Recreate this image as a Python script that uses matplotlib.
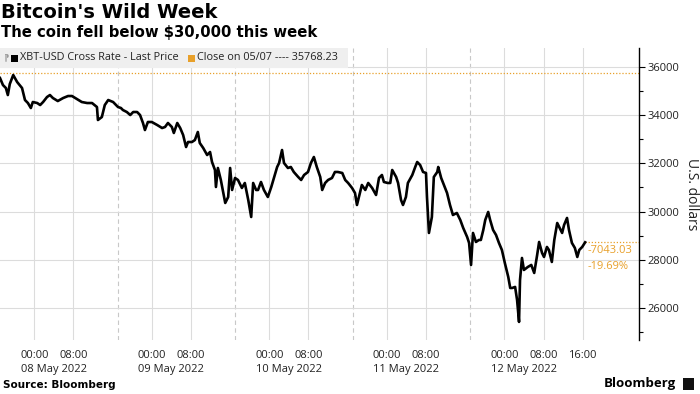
import datetime as dt
import matplotlib
matplotlib.use("Agg")
import matplotlib.pyplot as plt
import matplotlib.dates as mdates
from matplotlib.patches import Rectangle
from matplotlib.transforms import blended_transform_factory

# XBT-USD last price (hours after 07 May 2022 17:00)
hours = [0.0, 0.6, 1.2, 1.6, 2.0, 2.7, 3.5, 4.5, 5.1, 5.7, 6.3, 6.7, 7.6, 8.2, 8.8,
         9.6, 10.2, 10.8, 11.8, 12.9, 13.9, 14.7, 15.7, 16.7, 17.8, 18.8, 19.8, 20.0,
         20.8, 21.4, 22.1, 23.1, 24.1, 24.7, 25.1, 25.9, 26.6, 27.2, 28.0, 28.6, 29.2,
         29.6, 30.2, 31.0, 32.1, 33.1, 33.7, 34.3, 35.1, 35.5, 36.2, 36.8, 37.4, 38.0,
         38.4, 39.2, 39.8, 40.4, 40.8, 41.5, 42.3, 42.9, 43.3, 43.9, 44.1, 44.5, 45.1,
         45.5, 46.0, 46.6, 47.0, 47.4, 48.0, 48.6, 49.4, 50.0, 50.7, 51.3, 51.7, 52.3,
         52.7, 53.3, 53.9, 54.7, 55.4, 56.0, 56.6, 57.0, 57.6, 58.0, 58.8, 59.4, 60.0,
         60.9, 61.5, 62.1, 62.9, 63.5, 64.1, 64.7, 65.4, 65.8, 66.4, 67.0, 67.8, 68.4,
         69.0, 69.9, 70.5, 71.1, 71.9, 72.5, 72.9, 73.3, 73.9, 74.6, 75.2, 76.0, 76.8,
         77.4, 78.0, 78.4, 79.2, 79.7, 80.1, 80.9, 81.3, 81.9, 82.3, 82.9, 83.3, 84.2,
         84.8, 85.2, 85.8, 86.4, 87.0, 87.2, 87.6, 88.2, 88.6, 89.3, 89.5, 90.1, 90.5,
         91.3, 91.9, 92.5, 93.3, 94.0, 94.6, 95.4, 95.8, 96.2, 96.6, 97.2, 97.8, 98.2,
         98.7, 99.1, 99.7, 100.1, 100.7, 101.3, 101.9, 102.5, 103.1, 103.8, 104.2,
         104.6, 105.2, 105.6, 106.0, 106.2, 106.6, 107.0, 107.8, 108.5, 109.1, 109.7,
         110.1, 110.7, 111.1, 111.7, 112.1, 112.7, 113.2, 113.8, 114.2, 114.8, 115.2,
         115.8, 116.2, 116.8, 117.4, 117.9, 118.3, 118.9, 119.5]
prices = [35544, 35253, 35129, 34838, 35295, 35668, 35378, 35129, 34631, 34506, 34299,
          34548, 34506, 34423, 34548, 34755, 34838, 34714, 34589, 34714, 34797, 34797,
          34672, 34548, 34506, 34506, 34340, 33801, 33925, 34423, 34631, 34548, 34340,
          34299, 34216, 34133, 34008, 34133, 34133, 34008, 33677, 33386, 33718, 33718,
          33594, 33469, 33511, 33677, 33511, 33262, 33677, 33469, 33179, 32681, 32888,
          32888, 32971, 33303, 32847, 32639, 32349, 32473, 32058, 31727, 31021, 31810,
          31312, 30897, 30357, 30606, 31810, 30897, 31395, 31312, 30980, 31187, 30482,
          29776, 31187, 30897, 30897, 31229, 30897, 30606, 31021, 31436, 31851, 32017,
          32556, 32017, 31810, 31851, 31644, 31436, 31312, 31519, 31644, 32017, 32266,
          31851, 31436, 30897, 31187, 31312, 31395, 31644, 31644, 31602, 31312, 31187,
          30980, 30772, 30274, 30606, 31104, 30897, 31187, 30980, 30689, 31395, 31519,
          31229, 31187, 31187, 31727, 31436, 31187, 30482, 30274, 30606, 31187, 31519,
          31851, 32058, 31934, 31644, 31602, 30606, 29113, 29776, 31436, 31644, 31851,
          31395, 31187, 30772, 30274, 29859, 29942, 29652, 29320, 28947, 28698, 27785,
          29113, 28739, 28822, 28822, 29237, 29652, 29984, 29652, 29237, 29030, 28698,
          28407, 27868, 27287, 26830, 26830, 26872, 26332, 25420, 27163, 28075, 27577,
          27702, 27785, 27453, 28200, 28739, 28283, 28117, 28532, 28407, 27909, 28822,
          29527, 29362, 29113, 29444, 29735, 29237, 28698, 28491, 28117, 28407, 28532,
          28725]

close_0507 = 35768.23
change_abs = "-7043.03"
change_pct = "-19.69%"
day_labels = ["08 May 2022", "09 May 2022", "10 May 2022", "11 May 2022", "12 May 2022"]
y_ticks = [26000, 28000, 30000, 32000, 34000, 36000]

start = dt.datetime(2022, 5, 7, 17, 0)
times = [start + dt.timedelta(hours=h) for h in hours]

small = ["Open Sans", "DejaVu Sans"]
orange = "#e8a02a"
txt = "#222222"

fig = plt.figure(figsize=(7.0, 3.94), dpi=100)
ax = fig.add_axes([0.0, 54 / 394, 639 / 700, 292 / 394])

ax.set_xlim(start, start + dt.timedelta(hours=130.5))
ax.set_ylim(24670, 36790)

# tick positions: 00:00 and 08:00 each day, plus 16:00 on the last day
days = [dt.datetime(2022, 5, d) for d in range(8, 13)]
xticks = []
xlabels = []
for d in days:
    xticks += [d, d + dt.timedelta(hours=8)]
    xlabels += ["00:00", "08:00"]
xticks.append(days[-1] + dt.timedelta(hours=16))
xlabels.append("16:00")
ax.set_xticks([mdates.date2num(t) for t in xticks])
ax.set_xticklabels(xlabels, fontsize=8, family=small, color=txt)
ax.tick_params(axis="x", length=0, pad=7)

for t in xticks:
    ax.axvline(t, color="#dcdcdc", lw=0.8, zorder=0)
for d in days[:-1]:
    ax.axvline(d + dt.timedelta(hours=17), color="#c8c8c8", lw=0.8,
               dashes=(4, 3), zorder=0)
for v in y_ticks:
    ax.axhline(v, color="#dcdcdc", lw=0.8, zorder=0)

trans = blended_transform_factory(ax.transData, ax.transAxes)
for d, lab in zip(days, day_labels):
    ax.text(d + dt.timedelta(hours=4), -0.083, lab, transform=trans, ha="center",
            va="top", fontsize=8, family=small, color=txt)

# right axis
ax.yaxis.tick_right()
ax.set_yticks(y_ticks)
ax.set_yticklabels([str(v) for v in y_ticks], fontsize=8, family=small, color=txt)
ax.set_yticks([25000, 27000, 29000, 31000, 33000, 35000], minor=True)
ax.tick_params(axis="y", which="major", length=4, width=0.8, pad=2, direction="out")
ax.tick_params(axis="y", which="minor", length=3, width=0.8, direction="out")
ax.yaxis.set_label_position("right")
ax.set_ylabel("U.S. dollars", rotation=270, fontsize=10, family=small,
              color=txt, labelpad=14)
for s in ["left", "top", "bottom"]:
    ax.spines[s].set_visible(False)
ax.spines["right"].set_linewidth(1.0)

# reference lines
ax.axhline(close_0507, color=orange, lw=0.9, ls=(0, (1, 1.5)), zorder=1)
ax.plot([times[-1], start + dt.timedelta(hours=130.5)], [prices[-1], prices[-1]],
        color=orange, lw=0.9, ls=(0, (1, 1.5)), zorder=1)

ax.plot(times, prices, color="black", lw=1.9, zorder=3)

ax.text(times[-1] + dt.timedelta(hours=0.5), prices[-1] - 120, change_abs, ha="left",
        va="top", fontsize=8, family=small, color=orange, zorder=4)
ax.text(times[-1] + dt.timedelta(hours=0.5), prices[-1] - 780, change_pct, ha="left",
        va="top", fontsize=8, family=small, color=orange, zorder=4)

# legend band
fig.patches.append(Rectangle((0, 1 - 68 / 394), 348 / 700, 20 / 394,
                             transform=fig.transFigure, facecolor="#efefef",
                             edgecolor="none", zorder=5))
fig.patches.append(Rectangle((11 / 700, 1 - 62 / 394), 7 / 700, 7 / 394,
                             transform=fig.transFigure, facecolor="black",
                             edgecolor="none", zorder=6))
fig.text(4 / 700, 1 - 58 / 394, "⁋", fontsize=6, color="#999999", va="center",
         family=small, zorder=7)
fig.text(20 / 700, 1 - 58 / 394, "XBT-USD Cross Rate - Last Price", fontsize=7.8,
         family=small, color=txt, va="center", zorder=7)
fig.patches.append(Rectangle((188 / 700, 1 - 62 / 394), 7 / 700, 7 / 394,
                             transform=fig.transFigure, facecolor=orange,
                             edgecolor="none", zorder=6))
fig.text(197 / 700, 1 - 58 / 394, "Close on 05/07 ---- 35768.23", fontsize=7.8,
         family=small, color=txt, va="center", zorder=7)

# titles and footer
fig.text(0.002, 1 - 3 / 394, "Bitcoin's Wild Week", fontsize=14, weight="bold",
         va="top", ha="left")
fig.text(0.002, 1 - 25 / 394, "The coin fell below $30,000 this week", fontsize=10.7,
         weight="bold", va="top", ha="left")
fig.text(0.004, 1 - 385 / 394, "Source: Bloomberg", fontsize=7.5, weight="bold",
         va="center", ha="left")
fig.text(676 / 700, 1 - 384 / 394, "Bloomberg", fontsize=9.5, weight="bold",
         va="center", ha="right", family=small)
fig.patches.append(Rectangle((683 / 700, 1 - 390 / 394), 11 / 700, 12 / 394,
                             transform=fig.transFigure, facecolor="#111111",
                             edgecolor="none"))

fig.savefig("out.png", dpi=100)
